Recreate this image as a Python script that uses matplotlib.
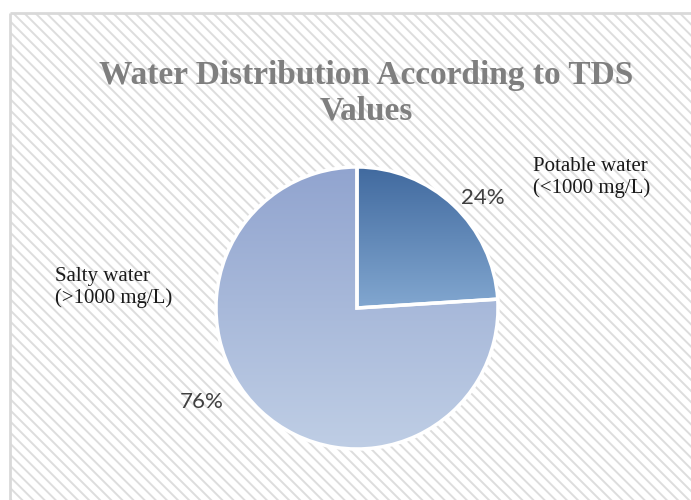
import numpy as np
import matplotlib
matplotlib.use("Agg")
import matplotlib.pyplot as plt
from matplotlib.patches import Rectangle
from matplotlib.colors import LinearSegmentedColormap

# Data
categories = ["Potable water\n(<1000 mg/L)", "Salty water\n(>1000 mg/L)"]
shares = [24, 76]
pct_labels = ["24%", "76%"]
title_lines = ["Water Distribution According to TDS", "Values"]

W, H = 691, 500
plt.rcParams["hatch.linewidth"] = 1.4
plt.rcParams["hatch.color"] = "#dddddd"

fig = plt.figure(figsize=(W / 100, H / 100), dpi=100)
fig.patch.set_facecolor("white")
ax = fig.add_axes([0, 0, 1, 1])
ax.set_axis_off()

# Chart area with diagonal stripes and a light border
bg = Rectangle((10, 0), W - 10, H - 13, facecolor="white", edgecolor="#dddddd",
               hatch="\\\\\\", linewidth=0, zorder=0)
ax.add_patch(bg)
ax.plot([10, 10], [0, H - 13], color="#d9d9d9", lw=2, zorder=1, solid_capstyle="butt")
ax.plot([10, W], [H - 13, H - 13], color="#d9d9d9", lw=2, zorder=1, solid_capstyle="butt")

cx, cy, r = 357, H - 308, 141
wedges, _ = ax.pie(shares, startangle=90, counterclock=False, center=(cx, cy),
                   radius=r, wedgeprops=dict(facecolor="none", edgecolor="white",
                                             linewidth=2.5, zorder=4))

# Vertical gradients filling each slice
gradients = [("#416a9f", "#82a7d0"), ("#91a4cf", "#bfcee5")]
for w, (c_top, c_bot) in zip(wedges, gradients):
    ext = w.get_path().get_extents(w.get_patch_transform())
    cmap = LinearSegmentedColormap.from_list("g", [c_bot, c_top])
    grad = np.linspace(0, 1, 256).reshape(-1, 1)
    im = ax.imshow(grad, cmap=cmap, origin="lower", aspect="auto",
                   extent=[ext.x0, ext.x1, ext.y0, ext.y1], zorder=3,
                   interpolation="bicubic")
    im.set_clip_path(w)
ax.set_xlim(0, W)
ax.set_ylim(0, H)
ax.set_aspect("auto")

title_kw = dict(ha="center", va="baseline", fontsize=24, fontweight="bold",
                family="Liberation Serif", color="#7f7f7f", zorder=5)
ax.text(366, H - 84, title_lines[0], **title_kw)
ax.text(366, H - 119, title_lines[1], **title_kw)

label_kw = dict(ha="left", va="baseline", fontsize=15, family="Liberation Serif",
                color="#1a1a1a", linespacing=1.15, zorder=5)
ax.text(533, H - 193, categories[0], **label_kw)
ax.text(55, H - 303, categories[1], **label_kw)

pct_kw = dict(ha="center", va="center", fontsize=16, family="Lato",
              color="#404040", zorder=5)
ax.text(483, H - 198, pct_labels[0], **pct_kw)
ax.text(202, H - 402, pct_labels[1], **pct_kw)

fig.savefig("out.png", dpi=100, facecolor="white")
